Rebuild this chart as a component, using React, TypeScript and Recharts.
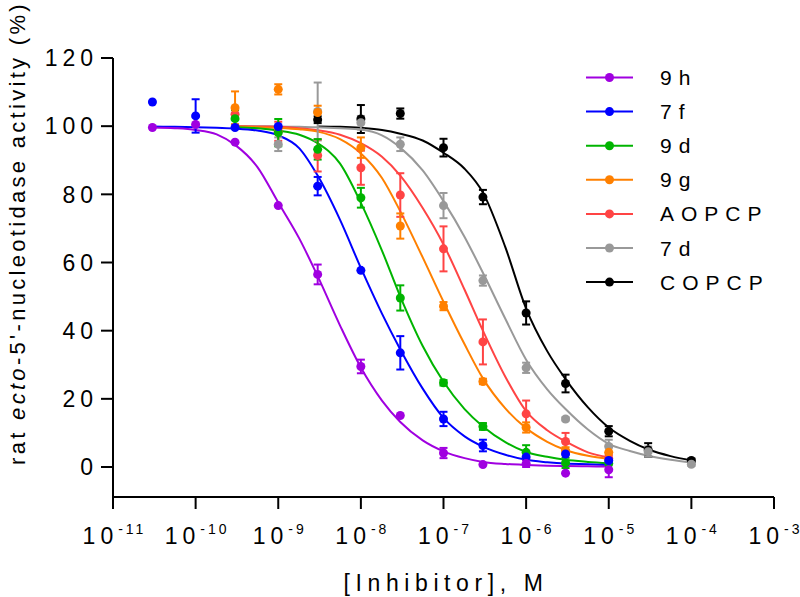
import {
  ComposedChart,
  ErrorBar,
  Label,
  Legend,
  Line,
  Scatter,
  XAxis,
  YAxis,
} from 'recharts'

const FONT = '"Liberation Sans", Arial, Helvetica, sans-serif'

// axes
const xTicks = [1e-11, 1e-10, 1e-9, 1e-8, 1e-7, 1e-6, 1e-5, 1e-4, 1e-3]
const yTicks = [0, 20, 40, 60, 80, 100, 120]

// series labels + colours (legend order)
const seriesNames = ['9h', '7f', '9d', '9g', 'AOPCP', '7d', 'COPCP']
const seriesColors = ['#a000e0', '#0000ff', '#00b400', '#ff8000', '#ff4444', '#999999', '#000000']

// measured concentrations (M)
const doseA = [3e-11, 1e-10, 3e-10, 1e-9, 3e-9, 1e-8, 3e-8, 1e-7, 3e-7, 1e-6, 3e-6, 1e-5]
const doseB = [3e-10, 1e-9, 3e-9, 1e-8, 3e-8, 1e-7, 3e-7, 1e-6, 3e-6, 1e-5]
const doseC = [1e-9, 3e-9, 1e-8, 3e-8, 1e-7, 3e-7, 1e-6, 3e-6, 1e-5, 3e-5, 1e-4]
const doseD = [3e-9, 1e-8, 3e-8, 1e-7, 3e-7, 1e-6, 3e-6, 1e-5, 3e-5, 1e-4]

// mean activity (%) and SEM
const mean9h = [99.6, 100.5, 95.3, 76.7, 56.5, 29.5, 15.1, 4.1, 0.7, 1.0, -1.8, -0.8]
const sem9h = [0, 0, 0, 0, 2.9, 2.0, 0, 1.5, 0, 1.0, 0, 2.2]
const mean7f = [107.1, 103.0, 99.6, 99.9, 82.4, 57.7, 33.5, 14.1, 6.3, 2.9, 3.8, 1.9]
const sem7f = [0, 4.9, 0, 0, 2.7, 0, 4.9, 2.1, 1.7, 0, 0, 0]
const mean9d = [102.2, 98.1, 93.2, 79.0, 49.6, 24.7, 11.9, 4.3, 1.2, 1.0]
const sem9d = [2.5, 4.0, 3.0, 2.9, 3.7, 0.8, 1.0, 2.1, 1.5, 0]
const mean9g = [105.4, 110.8, 104.0, 93.7, 70.7, 47.2, 25.1, 11.6, 4.8, 4.3]
const sem9g = [4.8, 1.5, 2.0, 3.0, 3.7, 1.2, 0.8, 1.5, 1.0, 2.0]
const meanAOPCP = [103.5, 98.5, 91.4, 87.8, 79.8, 64.0, 36.7, 15.6, 7.5, 2.5]
const semAOPCP = [1.5, 2.8, 4.7, 5.0, 6.4, 6.6, 6.6, 3.9, 2.5, 1.0]
const mean7d = [94.7, 104.3, 101.0, 94.7, 76.7, 54.7, 29.1, 14.1, 6.0, 4.5, 0.8]
const sem7d = [2.0, 8.5, 2.0, 2.0, 3.7, 1.5, 1.5, 0.5, 2.0, 1.5, 0.5]
const meanCOPCP = [101.9, 102.1, 103.7, 93.7, 79.2, 45.2, 24.5, 10.5, 5.0, 1.9]
const semCOPCP = [1.0, 4.1, 1.5, 2.6, 2.1, 3.4, 2.6, 1.5, 2.0, 0.5]

// fitted curves
const gridA = [
  3e-11, 5.6e-11, 1e-10, 1.8e-10, 3e-10, 5.6e-10, 1e-9, 1.8e-9, 3e-9, 5.6e-9, 1e-8, 1.8e-8,
  3e-8, 5.6e-8, 1e-7, 1.8e-7, 3e-7, 5.6e-7, 1e-6, 1.8e-6, 3e-6, 5.6e-6, 1e-5,
]
const gridB = [
  3e-10, 5.6e-10, 1e-9, 1.8e-9, 3e-9, 5.6e-9, 1e-8, 1.8e-8, 3e-8, 5.6e-8, 1e-7, 1.8e-7, 3e-7,
  5.6e-7, 1e-6, 1.8e-6, 3e-6, 5.6e-6, 1e-5,
]
const gridC = [
  3e-10, 5.6e-10, 1e-9, 1.8e-9, 3e-9, 5.6e-9, 1e-8, 1.8e-8, 3e-8, 5.6e-8, 1e-7, 1.8e-7, 3e-7,
  5.6e-7, 1e-6, 1.8e-6, 3e-6, 5.6e-6, 1e-5, 1.8e-5, 3e-5, 5.6e-5, 1e-4,
]
const gridD = [
  3e-9, 5.6e-9, 1e-8, 1.8e-8, 3e-8, 5.6e-8, 1e-7, 1.8e-7, 3e-7, 5.6e-7, 1e-6, 1.8e-6, 3e-6,
  5.6e-6, 1e-5, 1.8e-5, 3e-5, 5.6e-5, 1e-4,
]
const fit9h = [
  99.6, 99.4, 98.9, 97.6, 94.5, 88.0, 77.6, 67.0, 56.0, 41.5, 29.2, 19.5, 13.2, 7.8, 4.6, 2.6,
  1.5, 0.9, 0.6, 0.4, 0.3, 0.2, 0.15,
]
const fit7f = [
  99.9, 99.8, 99.7, 99.5, 99.3, 98.7, 97.3, 93.5, 85.5, 72.5, 58.4, 45.0, 34.5, 23.0, 14.4, 9.0,
  6.0, 3.6, 2.1, 1.4, 1.0, 0.8, 0.6,
]
const fit9d = [
  99.7, 99.4, 98.7, 97.5, 95.0, 89.0, 77.5, 63.5, 50.0, 35.5, 25.0, 17.0, 11.9, 7.3, 4.4, 3.0,
  2.1, 1.5, 1.1,
]
const fit9g = [
  99.9, 99.7, 99.5, 99.1, 98.4, 96.2, 92.0, 84.8, 75.0, 61.5, 48.5, 36.0, 26.0, 17.2, 11.4, 7.4,
  5.0, 3.3, 2.4,
]
const fitAOPCP = [
  100, 99.9, 99.8, 99.4, 98.8, 97.5, 95.0, 91.0, 85.5, 76.0, 65.3, 52.0, 40.0, 26.5, 16.4, 10.8,
  7.5, 4.3, 2.8,
]
const fit7d = [
  100, 100, 99.9, 99.8, 99.7, 99.4, 99.0, 97.3, 93.7, 87.0, 78.0, 67.5, 57.0, 43.5, 31.5, 22.8,
  17.0, 11.0, 6.8, 4.7, 3.3, 2.1, 1.3,
]
const fitCOPCP = [
  99.9, 99.8, 99.5, 98.9, 97.8, 95.8, 92.2, 87.5, 80.5, 64.5, 46.5, 34.0, 25.8, 17.5, 11.6, 7.7,
  5.2, 3.2, 2.0,
]

interface Pt {
  x: number
  y: number
  err?: number
}

const toPoints = (dose: number[], mean: number[], sem: number[]): Pt[] =>
  dose.map((x, i) => ({ x, y: mean[i], err: sem[i] }))
const toCurve = (grid: number[], fit: number[]): Pt[] => grid.map((x, i) => ({ x, y: fit[i] }))

const series = [
  { points: toPoints(doseA, mean9h, sem9h), curve: toCurve(gridA, fit9h) },
  { points: toPoints(doseA, mean7f, sem7f), curve: toCurve(gridA, fit7f) },
  { points: toPoints(doseB, mean9d, sem9d), curve: toCurve(gridB, fit9d) },
  { points: toPoints(doseB, mean9g, sem9g), curve: toCurve(gridB, fit9g) },
  { points: toPoints(doseB, meanAOPCP, semAOPCP), curve: toCurve(gridB, fitAOPCP) },
  { points: toPoints(doseC, mean7d, sem7d), curve: toCurve(gridC, fit7d) },
  { points: toPoints(doseD, meanCOPCP, semCOPCP), curve: toCurve(gridD, fitCOPCP) },
].map((s, i) => ({ ...s, name: seriesNames[i], color: seriesColors[i] }))

// draw black first so that 9h ends up on top
const drawOrder = [...series].reverse()

// "10" with a raised exponent; spacing is put between glyphs only (no trailing gap)
function XTick({ x, y, payload }: any) {
  const exp = String(Math.round(Math.log10(payload.value)))
  return (
    <text x={x} y={y + 33} textAnchor="middle" fontFamily={FONT} fontSize={23} fill="#000">
      <tspan>1</tspan>
      <tspan dx={5}>0</tspan>
      {exp.split('').map((ch, i) => (
        <tspan key={i} dx={i === 0 ? 5 : 3} dy={i === 0 ? -10.5 : 0} fontSize={14}>
          {ch}
        </tspan>
      ))}
    </text>
  )
}

function YTick({ x, y, payload }: any) {
  return (
    <text
      x={x - 1}
      y={y + 8.2}
      textAnchor="end"
      fontFamily={FONT}
      fontSize={23}
      fill="#000"
      style={{ letterSpacing: 5 }}
    >
      {payload.value}
    </text>
  )
}

function LegendBox() {
  return (
    <svg width={220} height={250}>
      {seriesNames.map((name, i) => {
        const cy = 19.5 + i * 34.1
        return (
          <g key={name}>
            <line x1={6} x2={53} y1={cy} y2={cy} stroke={seriesColors[i]} strokeWidth={2} />
            <circle cx={29.5} cy={cy} r={4.5} fill={seriesColors[i]} />
            <text
              x={80}
              y={cy + 7.5}
              fontFamily={FONT}
              fontSize={21}
              fill="#000"
              style={{ letterSpacing: 7 }}
            >
              {name}
            </text>
          </g>
        )
      })}
    </svg>
  )
}

export default function App() {
  return (
    <div style={{ width: 800, height: 597, background: '#fff' }}>
      <style>{'body{margin:0}'}</style>
      <ComposedChart width={800} height={597} margin={{ top: 58, right: 26, bottom: 0, left: 43 }}>
        <XAxis
          dataKey="x"
          type="number"
          scale="log"
          domain={[1e-11, 1e-3]}
          ticks={xTicks}
          allowDataOverflow
          height={100}
          tick={<XTick />}
          tickSize={12}
          tickMargin={2}
          tickLine={{ stroke: '#000', strokeWidth: 2 }}
          axisLine={{ stroke: '#000', strokeWidth: 2 }}
        >
          <Label
            content={() => (
              <text
                x={446}
                y={591}
                textAnchor="middle"
                fontFamily={FONT}
                fontSize={23}
                fill="#000"
                style={{ letterSpacing: 5.6 }}
              >
                [Inhibitor], M
              </text>
            )}
          />
        </XAxis>
        <YAxis
          type="number"
          domain={[-8.8, 120]}
          ticks={yTicks}
          allowDataOverflow
          width={70}
          tick={<YTick />}
          tickSize={12}
          tickMargin={2}
          tickLine={{ stroke: '#000', strokeWidth: 2 }}
          axisLine={{ stroke: '#000', strokeWidth: 2 }}
        >
          <Label
            content={() => (
              <text
                x={25}
                y={233}
                transform="rotate(-90 25 233)"
                textAnchor="middle"
                fontFamily={FONT}
                fontSize={22}
                fill="#000"
                style={{ letterSpacing: 3.3 }}
              >
                rat <tspan fontStyle="italic">ecto</tspan>-5'-nucleotidase activity (%)
              </text>
            )}
          />
        </YAxis>
        <Legend
          layout="vertical"
          align="center"
          verticalAlign="middle"
          content={() => <LegendBox />}
          wrapperStyle={{ left: 580, top: 58, width: 220, height: 250 }}
        />
        {drawOrder.map((s) => (
          <Line
            key={`fit-${s.name}`}
            data={s.curve}
            dataKey="y"
            type="monotone"
            stroke={s.color}
            strokeWidth={2}
            dot={false}
            activeDot={false}
            legendType="none"
            isAnimationActive={false}
          />
        ))}
        {drawOrder.map((s) => (
          <Scatter
            key={`pts-${s.name}`}
            data={s.points}
            dataKey="y"
            fill={s.color}
            legendType="none"
            isAnimationActive={false}
            shape={(p: any) => <circle cx={p.cx} cy={p.cy} r={4.5} fill={s.color} />}
          >
            <ErrorBar
              dataKey="err"
              direction="y"
              width={4}
              stroke={s.color}
              strokeWidth={2}
              isAnimationActive={false}
            />
          </Scatter>
        ))}
      </ComposedChart>
    </div>
  )
}
